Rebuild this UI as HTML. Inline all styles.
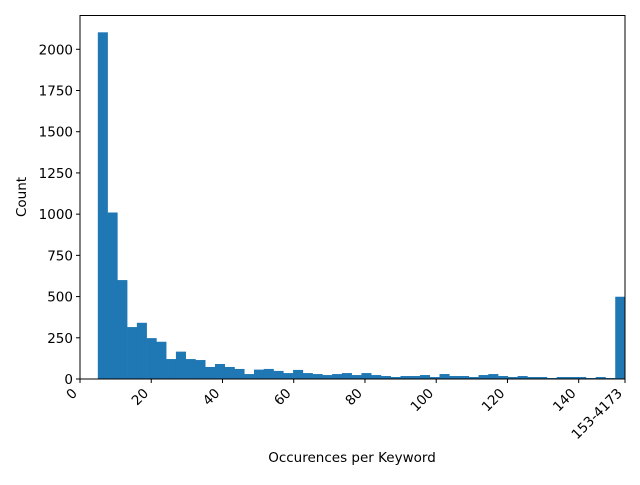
<!DOCTYPE html>
<html><head><meta charset="utf-8"><style>
body{margin:0;background:#fff}
svg text{font-family:"DejaVu Sans","Liberation Sans",sans-serif;font-size:13.5px;fill:#000}
</style></head><body>
<svg id="chart" width="640" height="480">
<rect x="0" y="0" width="640" height="480" fill="#fff"/>
<g id="bars"></g>
<g id="axes"></g>
<text x="352" y="462" text-anchor="middle">Occurences per Keyword</text>
<text transform="translate(26,197) rotate(-90)" text-anchor="middle">Count</text>
</svg>
<script>
const counts = [2103,1010,600,315,341,248,226,121,166,121,115,73,91,73,61,30,57,61,49,36,55,36,30,24,30,36,24,36,24,18,12,18,18,24,12,30,18,18,12,24,30,18,12,18,12,12,6,12,12,12,6,12,6,499];
const binStart = 5, binEnd = 153;
const xTickValues = [0,20,40,60,80,100,120,140,153];
const xTickLabels = ["0","20","40","60","80","100","120","140","153-4173"];
const yTicks = [0,250,500,750,1000,1250,1500,1750,2000];

const L=80,R=625,T=15.5,B=379;
const xMin=0,xMax=153,yMax=2205;
const sx=v=>L+(v-xMin)/(xMax-xMin)*(R-L);
const sy=v=>B-v/yMax*(B-T);
const NS="http://www.w3.org/2000/svg";
const bars=document.getElementById('bars'), axes=document.getElementById('axes');
const w=(binEnd-binStart)/counts.length;
counts.forEach((c,i)=>{
  const r=document.createElementNS(NS,'rect');
  const x0=sx(binStart+i*w), x1=sx(binStart+(i+1)*w);
  r.setAttribute('x',x0);r.setAttribute('width',x1-x0+0.3);
  r.setAttribute('y',sy(c));r.setAttribute('height',B-sy(c));
  r.setAttribute('fill','#1f77b4');
  
  
  bars.appendChild(r);
});
const frame=document.createElementNS(NS,'rect');
frame.setAttribute('x',L);frame.setAttribute('y',T);frame.setAttribute('width',R-L);frame.setAttribute('height',B-T);
frame.setAttribute('fill','none');frame.setAttribute('stroke','#000');frame.setAttribute('stroke-width','1');


axes.appendChild(frame);
yTicks.forEach(v=>{
  const y=sy(v);
  const l=document.createElementNS(NS,'line');
  l.setAttribute('x1',L-4);l.setAttribute('x2',L);l.setAttribute('y1',y);l.setAttribute('y2',y);l.setAttribute('stroke','#000');
  
  
  axes.appendChild(l);
  const t=document.createElementNS(NS,'text');
  t.setAttribute('x',L-7);t.setAttribute('y',y+5);t.setAttribute('text-anchor','end');t.textContent=v;
  
  
  axes.appendChild(t);
});
xTickValues.forEach((v,i)=>{
  const x=sx(v);
  const l=document.createElementNS(NS,'line');
  l.setAttribute('x1',x);l.setAttribute('x2',x);l.setAttribute('y1',B);l.setAttribute('y2',B+4);l.setAttribute('stroke','#000');
  
  
  axes.appendChild(l);
  const t=document.createElementNS(NS,'text');
  t.setAttribute('transform','translate('+(x-2)+','+(B+15)+') rotate(-45)');
  t.setAttribute('text-anchor','end');t.textContent=xTickLabels[i];
  
  
  axes.appendChild(t);
});
</script>
</body></html>
